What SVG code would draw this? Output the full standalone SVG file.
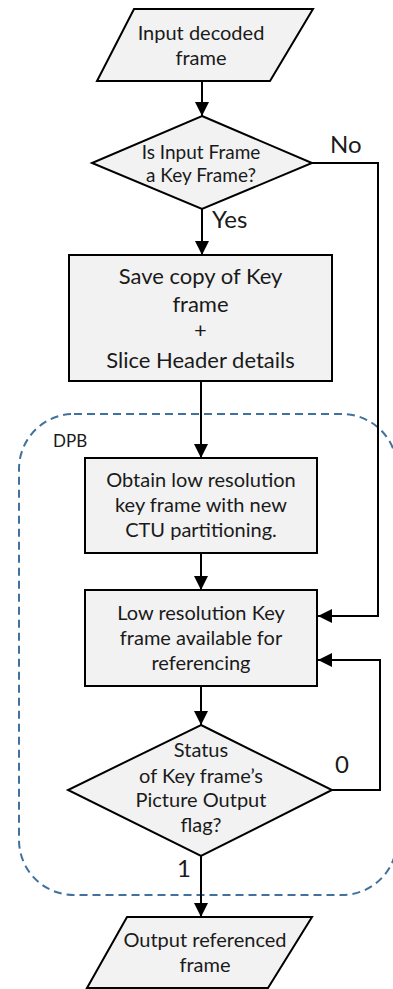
<svg xmlns="http://www.w3.org/2000/svg" width="393" height="989" viewBox="0 0 393 989">
<defs>
<marker id="ah" markerUnits="userSpaceOnUse" markerWidth="14" markerHeight="14" viewBox="0 0 14 14" refX="14" refY="7" orient="auto">
<path d="M0,0 L14,7 L0,14 Z" fill="#000"/>
</marker>
<style>
.shape{fill:#F2F2F2;stroke:#000;stroke-width:2}
.conn{fill:none;stroke:#000;stroke-width:2}
text{font-family:Lato,"Liberation Sans",sans-serif;fill:#1a1a1a;text-anchor:middle}
.t20{font-size:20px}
.t22{font-size:22px}
.t19{font-size:19px}
.lbl{font-size:24px;text-anchor:start}
</style>
</defs>
<rect id="dpb-region" x="19" y="414" width="378" height="481" rx="55" ry="55" fill="none" stroke="#41719C" stroke-width="2" stroke-dasharray="8 5"/>
<text x="53" y="447" style="font-size:17px;text-anchor:start">DPB</text>
<g id="connectors">
<line class="conn" x1="202" y1="81" x2="202" y2="116" marker-end="url(#ah)"/>
<line class="conn" x1="202" y1="209" x2="202" y2="255" marker-end="url(#ah)"/>
<line class="conn" x1="201" y1="381" x2="201" y2="458" marker-end="url(#ah)"/>
<line class="conn" x1="201" y1="553" x2="201" y2="590" marker-end="url(#ah)"/>
<line class="conn" x1="201" y1="686" x2="201" y2="725" marker-end="url(#ah)"/>
<line class="conn" x1="201" y1="856" x2="201" y2="917" marker-end="url(#ah)"/>
<polyline class="conn" points="312,163 378,163 378,616 318,616" marker-end="url(#ah)"/>
<polyline class="conn" points="332,790 380,790 380,660 318,660" marker-end="url(#ah)"/>
<text class="lbl" x="330" y="153">No</text>
<text class="lbl" x="212" y="228">Yes</text>
<text class="lbl" x="335" y="773">0</text>
<text class="lbl" x="177" y="877">1</text>
</g>
<g id="input">
<polygon class="shape" points="134,9 313,9 270,81 97,81"/>
<text class="t20" x="201" y="40">Input decoded</text>
<text class="t20" x="201" y="65">frame</text>
</g>
<g id="is-key">
<polygon class="shape" points="202,116 312,163 202,209 92,163"/>
<text class="t19" x="201" y="159">Is Input Frame</text>
<text class="t19" x="201" y="182">a Key Frame?</text>
</g>
<g id="save-copy">
<rect class="shape" x="69" y="255" width="263" height="126"/>
<text class="t22" x="200.5" y="284">Save copy of Key</text>
<text class="t22" x="200.5" y="312">frame</text>
<text class="t22" x="200.5" y="338">+</text>
<text class="t22" x="200.5" y="368">Slice Header details</text>
</g>
<g id="obtain-low">
<rect class="shape" x="85" y="458" width="232" height="95"/>
<text class="t20" x="201" y="487">Obtain low resolution</text>
<text class="t20" x="201" y="512">key frame with new</text>
<text class="t20" x="201" y="537">CTU partitioning.</text>
</g>
<g id="low-available">
<rect class="shape" x="85" y="590" width="232" height="96"/>
<text class="t20" x="201" y="620">Low resolution Key</text>
<text class="t20" x="201" y="645">frame available for</text>
<text class="t20" x="201" y="670">referencing</text>
</g>
<g id="status">
<polygon class="shape" points="201,725 332,790 201,856 68,790"/>
<text class="t20" x="201" y="757">Status</text>
<text class="t20" x="201" y="783">of Key frame’s</text>
<text class="t20" x="201" y="807">Picture Output</text>
<text class="t20" x="201" y="832">flag?</text>
</g>
<g id="output">
<polygon class="shape" points="127,917 312,917 268,988 87,988"/>
<text class="t20" x="205" y="947">Output referenced</text>
<text class="t20" x="205" y="972">frame</text>
</g>
</svg>
